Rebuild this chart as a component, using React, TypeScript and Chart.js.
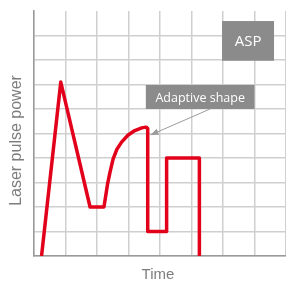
import React, { useEffect, useRef } from "react";
import { Chart, registerables } from "chart.js";

Chart.register(...registerables);

// Pulse shape (time in grid units, power in grid units)
const timeValues = [0.24, 0.85, 1.78, 2.22, 2.27, 2.33, 2.41, 2.51, 2.63, 2.78, 2.98, 3.2, 3.42, 3.56, 3.61, 3.61, 4.21, 4.21, 5.25, 5.25];
const powerValues = [0, 7.1, 2, 2, 2.4, 2.9, 3.4, 3.95, 4.35, 4.65, 4.93, 5.12, 5.23, 5.26, 5.2, 1, 1, 4, 4, 0];

const xAxisTitle = "Time";
const yAxisTitle = "Laser pulse power";
const badgeLabel = "ASP";
const calloutLabel = "Adaptive shape";

const GRID = "#cfcfcf";
const AXIS = "#9a9a9a";
const RED = "#e2001a";
const BOX = "#8b8b8b";
const TITLE = "#7e7e7e";

const overlayPlugin = {
  id: "overlay",
  afterDatasetsDraw(chart: any) {
    const { ctx, scales } = chart;
    const xs = scales.x;
    const ys = scales.y;
    const px = (v: number) => xs.getPixelForValue(v);
    const py = (v: number) => ys.getPixelForValue(v);
    ctx.save();
    // ASP badge
    const ax0 = px(5.97), ax1 = px(7.62), ay0 = py(9.59), ay1 = py(7.97);
    ctx.fillStyle = BOX;
    ctx.fillRect(ax0, ay0, ax1 - ax0, ay1 - ay0);
    ctx.fillStyle = "#ffffff";
    ctx.font = "15px 'Open Sans'";
    ctx.textAlign = "center";
    ctx.textBaseline = "middle";
    ctx.fillText(badgeLabel, (ax0 + ax1) / 2, (ay0 + ay1) / 2 + 1);
    // Adaptive shape callout
    const bx0 = px(3.55), bx1 = px(7.0), by0 = py(6.98), by1 = py(6.0);
    ctx.fillStyle = BOX;
    ctx.fillRect(bx0, by0, bx1 - bx0, by1 - by0);
    ctx.fillStyle = "#ffffff";
    ctx.font = "12.5px 'Open Sans'";
    ctx.fillText(calloutLabel, (bx0 + bx1) / 2, (by0 + by1) / 2 + 1);
    // arrow
    const sx = px(5.59), sy = py(6.0), tx = px(3.7), ty = py(4.94);
    ctx.strokeStyle = "#9c9c9c";
    ctx.fillStyle = "#9c9c9c";
    ctx.lineWidth = 1;
    ctx.beginPath();
    ctx.moveTo(sx, sy);
    ctx.lineTo(tx, ty);
    ctx.stroke();
    const ang = Math.atan2(ty - sy, tx - sx);
    const L = 8, W = 3.2;
    ctx.beginPath();
    ctx.moveTo(tx, ty);
    ctx.lineTo(tx - L * Math.cos(ang) + W * Math.sin(ang), ty - L * Math.sin(ang) - W * Math.cos(ang));
    ctx.lineTo(tx - L * Math.cos(ang) - W * Math.sin(ang), ty - L * Math.sin(ang) + W * Math.cos(ang));
    ctx.closePath();
    ctx.fill();
    // axis titles
    ctx.fillStyle = TITLE;
    ctx.font = "15px 'Liberation Sans'";
    ctx.textAlign = "center";
    ctx.textBaseline = "middle";
    ctx.fillText(xAxisTitle, (chart.chartArea.left + chart.chartArea.right) / 2 - 2, 275);
    ctx.translate(17, 140.5);
    ctx.rotate(-Math.PI / 2);
    ctx.font = "16px 'Liberation Sans'";
    ctx.fillText(yAxisTitle, 0, 0);
    ctx.restore();
  },
};

export default function App() {
  const ref = useRef<HTMLCanvasElement | null>(null);
  useEffect(() => {
    if (!ref.current) return;
    const chart = new Chart(ref.current, {
      type: "line",
      data: {
        datasets: [
          {
            data: timeValues.map((t, i) => ({ x: t, y: powerValues[i] })),
            borderColor: RED,
            borderWidth: 3.5,
            pointRadius: 0,
            fill: false,
            tension: 0,
            borderJoinStyle: "round",
            borderCapStyle: "butt",
          } as any,
        ],
      },
      options: {
        animation: false,
        responsive: false,
        events: [],
        layout: { padding: { left: 34, top: 11, right: 0, bottom: 28 } },
        plugins: { legend: { display: false }, tooltip: { enabled: false } },
        scales: {
          x: {
            type: "linear",
            min: 0,
            max: 8,
            ticks: { display: false, stepSize: 1 },
            grid: { color: GRID, lineWidth: 1.5, drawTicks: false },
            border: { color: AXIS, width: 1.5 },
          },
          y: {
            type: "linear",
            min: 0,
            max: 10,
            ticks: { display: false, stepSize: 1 },
            grid: {
              color: (c: any) => (c.tick && c.tick.value === 10 ? "rgba(0,0,0,0)" : GRID),
              lineWidth: 1.5,
              drawTicks: false,
            },
            border: { color: AXIS, width: 1.5 },
          },
        },
      },
      plugins: [overlayPlugin],
    });
    return () => chart.destroy();
  }, []);
  return (
    <div style={{ position: "fixed", left: 0, top: 0, width: 286, height: 284, background: "#fff" }}>
      <canvas ref={ref} width={286} height={284} style={{ display: "block" }} />
    </div>
  );
}
